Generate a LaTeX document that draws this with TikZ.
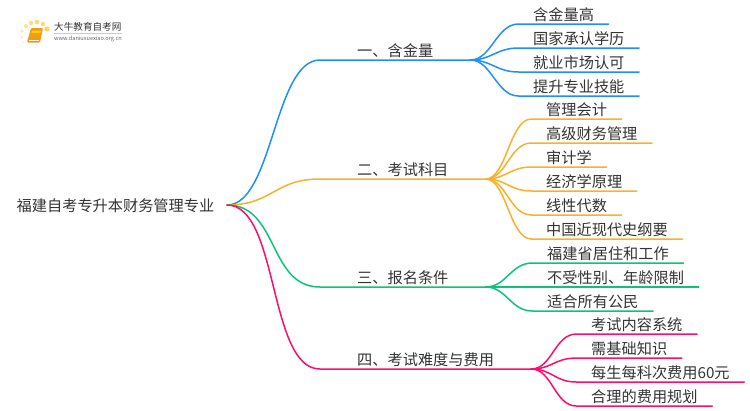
\documentclass[tikz,border=0pt]{standalone}
\usepackage{fontspec}
\setmainfont{Noto Sans CJK SC}
\usetikzlibrary{positioning}
\definecolor{cblue}{HTML}{1E8FFF}
\definecolor{corange}{HTML}{F9B12C}
\definecolor{cgreen}{HTML}{0DC27A}
\definecolor{cpink}{HTML}{FF0D6E}
\definecolor{ctext}{HTML}{333333}
\definecolor{cdot}{HTML}{FFD267}
\definecolor{cbook}{HTML}{F39A12}
\tikzset{
  txt/.style={inner ysep=0pt,anchor=south west,text=ctext,text depth=3.3pt,font=\fontsize{15.2}{15.2}\selectfont},
  branch/.style={txt,inner xsep=37pt},
  leaf/.style={txt,inner xsep=14.5pt},
  wire/.style={line width=1.5pt,line cap=round}
}
\newcommand{\linkto}[3]{\draw[wire,#1] (#2) .. controls +(21,0) and +(-22,0) .. (#3.south west) -- (#3.south east);}
\begin{document}
\begin{tikzpicture}[x=1pt,y=-1pt]
\useasboundingbox (0,0) rectangle (750,410);
% logo
\foreach \px/\py/\r/\o in {23/42/1.1/.35,22/37/1.5/.45,22/31/1.7/.55,26/26/2/.7,31/23/2.2/.85,37/22/2.3/.9,43/24/2.2/.9,47/29/2.7/1}
  {\fill[cdot,opacity=\o] (\px,\py) circle (\r);}
\fill[cbook,rounded corners=1pt] (27,42.5) -- (31,28) -- (43,28) -- (40,42.5) -- cycle;
\fill[yellow!60!cbook] (32,30.5) -- (41,30.5) -- (40.5,33) -- (31.5,33) -- cycle;
\draw[white,line width=.6pt] (28.5,40) -- (39,40);
\node[text=ctext,inner sep=0pt,anchor=west,font=\fontsize{9.6}{10}\selectfont] (logoname) at (54,27) {大牛教育自考网};
\draw[black!20,line width=.6pt] (54,33.5) -- (122,33.5);
\node[text=black!60,inner sep=0pt,anchor=west,font=\fontsize{5.6}{6}\selectfont] (logourl) at (54,38.5) {www.daniuxuexiao.org.cn};
% root
\node[txt,inner xsep=13pt,anchor=center,text depth=0pt] (root) at (115.5,205) {福建自考专升本财务管理专业};
\coordinate (start) at (227,205);
% branches
\node[branch] (b1) at (320,60) {一、含金量};
\node[branch] (b2) at (320,179) {二、考试科目};
\node[branch] (b3) at (320,287) {三、报名条件};
\node[branch] (b4) at (320,369) {四、考试难度与费用};
\foreach \n/\c/\l in {b1/cblue/46,b2/corange/46,b3/cgreen/52,b4/cpink/52}
  {\draw[wire,\c] (start) .. controls +(\l,0) and +(-\l,0) .. (\n.south west) -- (\n.south east);}
% leaves
\node[leaf] (a1) at (518.5,24) {含金量高};
\node[leaf] (a2) at (518.5,48) {国家承认学历};
\node[leaf] (a3) at (518.5,72) {就业市场认可};
\node[leaf] (a4) at (518.5,96) {提升专业技能};
\foreach \n in {a1,a2,a3,a4} {\linkto{cblue}{b1.south east}{\n}}
\node[leaf] (c1) at (531.5,119) {管理会计};
\node[leaf] (c2) at (531.5,143) {高级财务管理};
\node[leaf] (c3) at (531.5,167) {审计学};
\node[leaf] (c4) at (531.5,191) {经济学原理};
\node[leaf] (c5) at (531.5,215) {线性代数};
\node[leaf] (c6) at (531.5,239) {中国近现代史纲要};
\foreach \n in {c1,c2,c3,c4,c5,c6} {\linkto{corange}{b2.south east}{\n}}
\node[leaf] (d1) at (532.5,263) {福建省居住和工作};
\node[leaf] (d2) at (532.5,287) {不受性别、年龄限制};
\node[leaf] (d3) at (532.5,311) {适合所有公民};
\foreach \n in {d1,d2,d3} {\linkto{cgreen}{b3.south east}{\n}}
\node[leaf] (e1) at (576.5,334) {考试内容系统};
\node[leaf] (e2) at (576.5,358) {需基础知识};
\node[leaf] (e3) at (576.5,382) {每生每科次费用60元};
\node[leaf] (e4) at (576.5,406) {合理的费用规划};
\foreach \n in {e1,e2,e3,e4} {\linkto{cpink}{b4.south east}{\n}}
\end{tikzpicture}
\end{document}
